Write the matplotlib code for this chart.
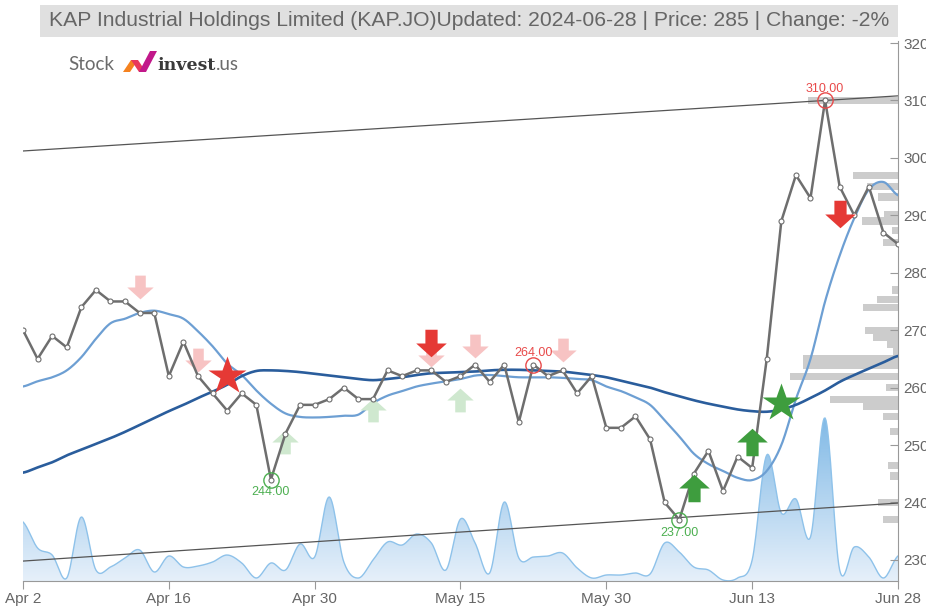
import numpy as np
import pandas as pd
import matplotlib
matplotlib.use("Agg")
import matplotlib.pyplot as plt
from matplotlib.path import Path
from matplotlib.patches import Rectangle, Polygon
from matplotlib.colors import LinearSegmentedColormap

plt.rcParams["font.family"] = ["Liberation Sans", "DejaVu Sans"]

# ---------------- data ----------------
holidays = ["2024-05-01", "2024-05-29", "2024-06-17"]
dates = [d for d in pd.bdate_range("2024-04-02", "2024-06-28")
         if d.strftime("%Y-%m-%d") not in holidays]

close = [270, 265, 269, 267, 274, 277, 275, 275, 273, 273,
         262, 268, 262, 259, 256, 259, 257, 244, 252, 257,
         257, 258, 260, 258, 258, 263, 262, 263, 263, 261,
         262, 264, 261, 264, 254, 264, 262, 263, 259, 262,
         253, 253, 255, 251, 240, 237, 245, 249, 242, 248,
         246, 265, 289, 297, 293, 310, 295, 290, 295, 287, 285]

ma_short = [260.2, 261.1, 261.8, 263.0, 265.3, 268.5, 271.2, 272.0, 273.0, 273.4,
            272.8, 272.0, 269.8, 267.2, 264.2, 262.2, 259.5, 257.2, 255.5, 254.9,
            254.8, 254.9, 255.1, 255.3, 257.3, 258.6, 259.4, 260.2, 260.7, 261.1,
            261.5, 262.1, 262.2, 262.0, 261.8, 261.8, 261.8, 261.7, 261.5, 261.3,
            260.2, 259.4, 258.3, 257.0, 254.3, 251.5, 248.5, 246.7, 245.5, 244.3,
            243.9, 245.5, 250.0, 258.0, 265.0, 275.0, 283.0, 289.5, 294.5, 295.8, 293.5]

ma_long = [245.2, 246.1, 247.0, 248.2, 249.2, 250.2, 251.2, 252.3, 253.5, 254.7,
           255.9, 257.0, 258.2, 259.3, 260.5, 262.0, 262.9, 263.0, 262.9, 262.7,
           262.4, 262.1, 261.8, 261.5, 261.3, 261.5, 261.8, 262.2, 262.5, 262.6,
           262.7, 262.8, 263.0, 263.1, 263.1, 263.0, 262.9, 262.8, 262.5, 262.2,
           261.8, 261.2, 260.6, 260.0, 259.2, 258.5, 257.8, 257.2, 256.7, 256.2,
           255.9, 255.8, 256.2, 257.0, 258.2, 259.5, 261.0, 262.2, 263.3, 264.4, 265.5]

volume = [59, 33, 26, 3, 64, 11, 14, 23, 31, 9,
          25, 14, 15, 19, 26, 18, 3, 18, 11, 37,
          24, 84, 19, 3, 21, 39, 36, 47, 38, 11,
          62, 38, 8, 79, 23, 24, 25, 28, 13, 3,
          6, 6, 8, 7, 38, 29, 14, 11, 1, 3,
          21, 126, 68, 82, 44, 163, 11, 34, 24, 3, 25]

profile_price = [310.0, 296.9, 295.0, 293.2, 290.2, 289.0, 287.3, 285.2, 277.0, 275.3,
                 274.0, 270.0, 268.8, 267.6, 266.2, 265.0, 263.8, 262.0, 260.0, 258.0,
                 256.8, 255.0, 252.3, 246.4, 244.6, 240.0, 237.1]
profile_size = [90, 45, 31, 20, 14, 36, 6, 15, 6, 21,
                35, 33, 25, 11, 5, 95, 95, 108, 12, 68,
                35, 15, 8, 10, 8, 20, 15]

upper_trend = [301.2, 310.8]
lower_trend = [229.8, 239.9]

tick_idx = [0, 10, 20, 30, 40, 50, 60]
tick_labels = ["Apr 2", "Apr 16", "Apr 30", "May 15", "May 30", "Jun 13", "Jun 28"]

# signals: (index, price)
faint_down = [(8, 277.6), (12, 264.8), (28, 265.7), (31, 267.3), (37, 266.5)]
solid_down = [(28, 267.7), (56, 290.3)]
faint_up = [(18, 250.5), (24, 256.1), (30, 257.8)]
solid_up = [(46, 242.6), (50, 250.5)]
red_star = [(14, 262.0)]
green_star = [(52, 257.3)]
highs = [(55, 310.0), (35, 264.0)]
lows = [(17, 244.0), (45, 237.0)]

title = "KAP Industrial Holdings Limited (KAP.JO)Updated: 2024-06-28 | Price: 285 | Change: -2%"

# ---------------- helpers ----------------
def smooth(y, n=12):
    y = np.asarray(y, float)
    xs, ys = [], []
    t = np.linspace(0, 1, n, endpoint=False)
    for i in range(len(y) - 1):
        p0 = y[i - 1] if i > 0 else y[i]
        p1, p2 = y[i], y[i + 1]
        p3 = y[i + 2] if i + 2 < len(y) else y[i + 1]
        m1, m2 = (p2 - p0) / 2, (p3 - p1) / 2
        h00 = 2 * t**3 - 3 * t**2 + 1
        h10 = t**3 - 2 * t**2 + t
        h01 = -2 * t**3 + 3 * t**2
        h11 = t**3 - t**2
        ys.append(h00 * p1 + h10 * m1 + h01 * p2 + h11 * m2)
        xs.append(i + t)
    xs.append([len(y) - 1]); ys.append([y[-1]])
    return np.concatenate(xs), np.concatenate(ys)

def arrow_path(up=True):
    v = [(-0.2, 0.45), (0.2, 0.45), (0.2, 0.0), (0.5, 0.0), (0.0, -0.45),
         (-0.5, 0.0), (-0.2, 0.0), (-0.2, 0.45)]
    if up:
        v = [(x, -y) for x, y in v]
    return Path(v, [Path.MOVETO] + [Path.LINETO] * 6 + [Path.CLOSEPOLY])

# ---------------- figure ----------------
W, H = 926, 608
fig = plt.figure(figsize=(W / 100, H / 100), dpi=100)
L, R, B, T = 23, 898, 581, 41
ax = fig.add_axes([L / W, 1 - B / H, (R - L) / W, (B - T) / H])
n = len(close)
x = np.arange(n)
ax.set_xlim(0, n - 1)
ax.set_ylim(226.33, 320.35)

px_per_idx = (R - L) / (n - 1)

# volume profile bars
for p, s in zip(profile_price, profile_size):
    w = s / px_per_idx
    ax.barh(p, w, left=(n - 1) - w, height=1.25, color="#cccccc", zorder=0.5, linewidth=0)

# volume area (twin axis)
axv = ax.twinx()
vx, vy = smooth(volume, 16)
vy = np.clip(vy, 0, None)
cmap = LinearSegmentedColormap.from_list("vg", ["#e6f0fa", "#80b9e6"])
grad = np.linspace(0, 1, 256).reshape(-1, 1)
im = axv.imshow(grad, aspect="auto", cmap=cmap, origin="lower",
                extent=[0, n - 1, 0, 165], zorder=1)
verts = np.column_stack([np.concatenate([vx, vx[::-1]]), np.concatenate([vy, np.zeros_like(vy)])])
clip = Polygon(verts, closed=True, transform=axv.transData, facecolor="none", edgecolor="none")
axv.add_patch(clip)
im.set_clip_path(clip)
axv.plot(vx, vy, color="#8ec2ea", lw=1.0, zorder=2)
axv.set_xlim(0, n - 1)
axv.set_ylim(0, B - T)
axv.axis("off")
ax.set_zorder(axv.get_zorder() + 1)
ax.patch.set_visible(False)

# trend lines
ax.plot([0, n - 1], upper_trend, color="#555555", lw=0.9, zorder=2)
ax.plot([0, n - 1], lower_trend, color="#555555", lw=0.9, zorder=2)

# moving averages
sx, sy = smooth(ma_short)
ax.plot(sx, sy, color="#6d9fd3", lw=1.6, zorder=3)
lx, ly = smooth(ma_long)
ax.plot(lx, ly, color="#2a5d9c", lw=1.9, zorder=3)

# faint arrows
for i, p in faint_down:
    ax.plot(i, p, marker=arrow_path(False), ms=19, color="#f7c3c3", mec="none", zorder=4)
for i, p in faint_up:
    ax.plot(i, p, marker=arrow_path(True), ms=19, color="#cfe8cf", mec="none", zorder=4)

# price line
ax.plot(x, close, color="#6e6e6e", lw=1.8, zorder=5, marker="o", ms=3.6,
        mfc="white", mec="#6e6e6e", mew=0.8)

# solid arrows and stars
for i, p in solid_down:
    ax.plot(i, p, marker=arrow_path(False), ms=22, color="#e53935", mec="none", zorder=6)
for i, p in solid_up:
    ax.plot(i, p, marker=arrow_path(True), ms=22, color="#3e9d3e", mec="none", zorder=6)
for i, p in red_star:
    ax.plot(i, p, marker="*", ms=29, color="#e53935", mec="none", zorder=6)
for i, p in green_star:
    ax.plot(i, p, marker="*", ms=29, color="#3e9d3e", mec="none", zorder=6)

# high / low annotations
for i, p in highs:
    ax.plot(i, p, marker="o", ms=11, mfc="none", mec="#e84a4a", mew=1.0, zorder=7)
    ax.annotate(f"{p:.2f}", (i, p), xytext=(0, 4), textcoords="offset points",
                ha="center", va="bottom", fontsize=9, color="#e84a4a", zorder=7)
for i, p in lows:
    ax.plot(i, p, marker="o", ms=11, mfc="none", mec="#4caf50", mew=1.0, zorder=7)
    ax.annotate(f"{p:.2f}", (i, p), xytext=(0, -5), textcoords="offset points",
                ha="center", va="top", fontsize=9, color="#4caf50", zorder=7)

# axes styling
for s in ["left", "top"]:
    ax.spines[s].set_visible(False)
ax.spines["bottom"].set_color("#999999")
ax.spines["right"].set_color("#999999")
ax.yaxis.tick_right()
ax.set_yticks(range(230, 321, 10))
ax.tick_params(axis="y", direction="in", length=6, color="#999999", labelcolor="#666666",
               labelsize=11, pad=4)
ax.set_xticks(tick_idx)
ax.set_xticklabels(tick_labels)
ax.tick_params(axis="x", direction="out", length=6, color="#999999", labelcolor="#666666",
               labelsize=11, pad=2)

# title bar
fig.patches.append(Rectangle((40 / W, 1 - 37 / H), (898 - 40) / W, 32 / H,
                             transform=fig.transFigure, facecolor="#e0e0e0",
                             edgecolor="none", zorder=0))
fig.text(469 / W, 1 - 21 / H, title, ha="center", va="center", fontsize=15.2,
         color="#666666")

# logo
fig.text(68 / W, 1 - 65 / H, "Stock", ha="left", va="center", fontsize=13.5,
         color="#6b6b6b", family="Lato")
for pts, c in [([(123, 72), (131, 60), (138, 60), (130, 72)], "#f5821f"),
               ([(131, 60), (138, 60), (146, 72), (139, 72)], "#e8395b"),
               ([(139, 72), (146, 72), (157, 51), (150, 51)], "#c2188a")]:
    fig.patches.append(Polygon([(px / W, 1 - py / H) for px, py in pts], closed=True,
                               transform=fig.transFigure, facecolor=c, edgecolor="none"))
t_inv = fig.text(157 / W, 1 - 65 / H, "invest", ha="left", va="center", fontsize=12.5,
                 color="#3a3a3a", fontweight="bold", family="DejaVu Serif")
fig.canvas.draw()
bb = t_inv.get_window_extent(renderer=fig.canvas.get_renderer())
fig.text(bb.x1 / W + 1 / W, 1 - 65 / H, ".us", ha="left", va="center", fontsize=13.5,
         color="#6b6b6b", family="Lato")

fig.savefig("out.png", dpi=100)
